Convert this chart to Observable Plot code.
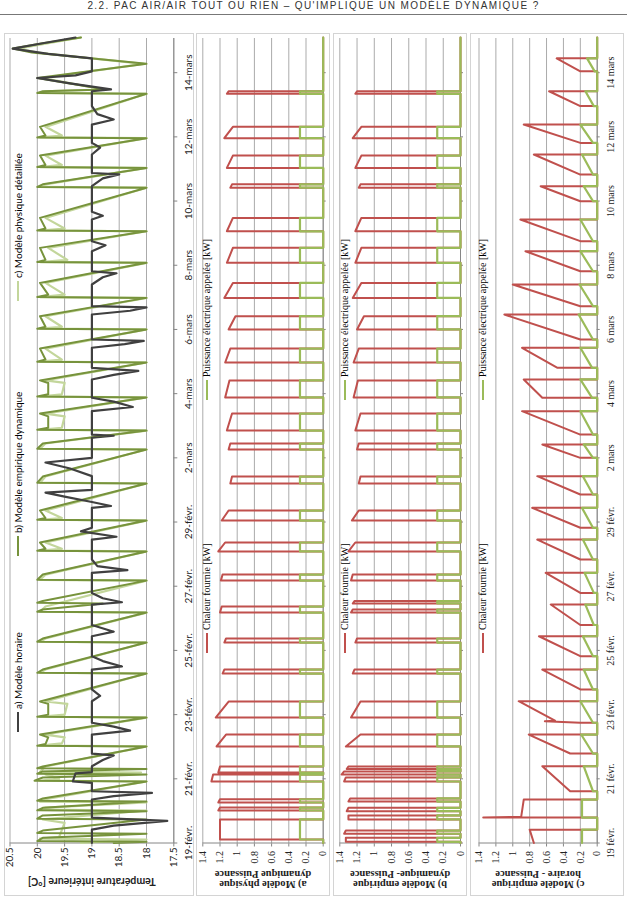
<!DOCTYPE html>
<html><head><meta charset="utf-8">
<script src="https://cdn.jsdelivr.net/npm/d3@7"></script>
<script src="https://cdn.jsdelivr.net/npm/@observablehq/plot@0.6"></script>
<style>
html,body{margin:0;padding:0;background:#fff}
body{width:627px;height:905px;overflow:hidden;position:relative;font-family:Lato,sans-serif}
#header{position:absolute;top:0px;left:0;width:627px;text-align:center;font:10px/11px "Liberation Sans";letter-spacing:1.4px;color:#333;white-space:nowrap}
#hr{position:absolute;top:14px;left:0;width:627px;height:1px;background:#777}
#land{position:absolute;left:0;top:0;width:905px;height:627px;transform-origin:0 0;transform:translate(0px,905px) rotate(-90deg)}
.box{position:absolute;border:1px solid #d4d4d4;box-sizing:border-box;background:#fff}
.plot{position:absolute;left:0}
.leg{position:absolute;display:flex;align-items:center;white-space:nowrap;font-size:10px;line-height:12px;height:12px}
.leg i{display:inline-block;width:20px;height:2px;margin-right:3px}
.serif{font-family:"Liberation Serif",serif}
</style></head><body>
<div id="header">2.2. PAC AIR/AIR TOUT OU RIEN – QU'IMPLIQUE UN MODÈLE DYNAMIQUE ?</div>
<div id="hr"></div>
<div id="land"></div>
<script>
// ---------- axis ticks & labels ----------
const xTicks = [0,48,96,144,192,240,288,336,384,432,480,528,576]; // hours since 19 Feb 2012 00:00
const xLabelsTemp = ["19-févr.","21-févr.","23-févr.","25-févr.","27-févr.","29-févr.","2-mars","4-mars","6-mars","8-mars","10-mars","12-mars","14-mars"];
const xLabelsPow = ["19 févr.","21 févr.","23 févr.","25 févr.","27 févr.","29 févr.","2 mars","4 mars","6 mars","8 mars","10 mars","12 mars","14 mars"];
const tempTicks = [17.5,18,18.5,19,19.5,20,20.5];
const tempLabels = ["17.5","18","18.5","19","19.5","20","20.5"];
const powTicks = [0,0.2,0.4,0.6,0.8,1,1.2,1.4];
const powLabels = ["0","0.2","0.4","0.6","0.8","1","1.2","1.4"];
const xEnd = 602.3;

// ---------- panel 1 : indoor temperature [°C] as (hour, value) ----------
const tempHoraire = [[0,19],[10,19],[13,18.6],[16.5,17.62],[19,19],[32.5,19],[35,18.6],[37.5,17.9],[38.7,19],[45,19],[46,19.35],[52,19.3],[53,19],[57.4,19],[62,18.8],[65.5,18.6],[66.9,19],[81.1,19],[84,18.3],[87,18.6],[89.9,19],[106,19],[110,18.85],[114.8,19],[129.7,19],[132,18.45],[136,18.8],[139.7,19],[154.6,19],[158,18.6],[163,19],[178.3,19],[180,18.45],[183,18.8],[187,19],[202,19],[204,18.35],[207,18.9],[212,19],[226.9,19],[229,18.55],[233,19.2],[235.7,19],[250.6,19],[252,18.65],[255,19],[259,19.5],[262,19.85],[264,19],[274.3,19],[280,19.4],[284.5,19.85],[288,19],[298,19],[303,19],[304.5,18.6],[305.4,19],[322.9,19],[326,18.25],[330,18.6],[332.9,19],[346.6,19],[350,18.6],[353,18.15],[355.3,19],[370.3,19],[373,18.4],[375.5,18.05],[376.5,19],[395.2,19],[398,18.3],[400.5,18.0],[401.4,19],[417.6,19],[423,18.8],[426,18.55],[427.5,19],[442.5,19],[447,18.75],[450,19],[466.2,19],[469,18.8],[472,19],[491.1,19],[497,18.8],[500,18.5],[501,19],[514.8,19],[520,18.85],[523.5,19],[537.2,19],[541,18.6],[545,18.9],[551,19],[562.1,19],[563.5,18.65],[568,19.4],[572,20.0],[574,19.3],[577,19],[586.7,19],[590,19.8],[594,20.45],[598,19.9],[602.3,19.3]];
const tempEmpDyn = [[0,18.6],[0.9,18.0],[1.5,20.0],[3.9,19.9],[6.9,18.0],[7.5,20.0],[9.3,19.9],[17.6,18.0],[18.2,20.0],[20.6,19.9],[23.8,18.0],[24.4,20.0],[26.3,19.9],[31,18.0],[31.6,20.0],[33.3,19.9],[46,18.0],[46.6,20.05],[49,19.9],[51.2,18.0],[51.8,20.0],[53.5,19.9],[55.3,18.0],[55.9,20.0],[57.2,19.9],[72.2,18.0],[72.8,20.0],[74,19.85],[79,19.8],[81.1,19.95],[93.8,18.0],[94.4,20.0],[96,19.8],[104,19.8],[105.8,19.95],[126.7,18.0],[127.3,20.0],[129.7,19.9],[149.9,18.0],[150.5,20.0],[152.9,19.9],[172.3,18.0],[172.9,20.0],[174.6,19.9],[179.1,18.8],[179.7,20.0],[180.9,19.9],[196.2,18.0],[196.8,20.0],[200.7,19.9],[218,18.0],[218.6,20.0],[220,19.85],[224.7,19.95],[241.1,18.0],[241.7,20.0],[243,19.85],[248.6,19.95],[268.8,18.0],[269.4,20.0],[274,19.9],[294.2,18.0],[294.8,20.0],[298.7,19.9],[308.4,18.0],[309,20.0],[310.5,19.8],[319,19.8],[321.1,19.95],[333.2,18.0],[333.8,20.0],[335.5,19.8],[344,19.8],[345.9,19.95],[359.3,18.0],[359.9,20.0],[361.5,19.85],[369.7,19.95],[384,18.0],[384.6,20.0],[386,19.85],[393.9,19.95],[407.6,18.0],[408.2,20.0],[410,19.8],[418.8,19.95],[433.8,18.0],[434.4,20.0],[436,19.85],[445,19.95],[457.4,18.0],[458,20.0],[459.5,19.85],[467.4,19.95],[490,18.0],[490.6,20.0],[492.5,19.9],[504.8,18.0],[505.4,20.0],[507,19.85],[514,19.95],[527,18.0],[527.6,20.0],[529,19.85],[535.5,19.95],[560.2,18.0],[560.8,20.0],[562.1,19.9],[563.5,18.75],[572,20.0],[582.6,18.0],[591,20.1],[594,20.45],[598,19.9],[602.3,19.2]];
const tempPhys = [[0,19.2],[2.6,18.0],[3.2,19.95],[4.5,19.6],[15,19.5],[17.6,19.9],[24.3,18.0],[24.9,19.95],[26.5,19.85],[30.3,18.0],[30.9,19.95],[32.7,19.85],[46,18.0],[46.6,19.95],[48,19.6],[51.2,19.85],[52.7,18.1],[53.3,19.95],[57.2,19.85],[72.2,18.0],[72.8,19.95],[74.5,19.55],[79,19.5],[81.1,19.85],[93.8,18.0],[94.4,19.95],[96,19.5],[104,19.45],[105.8,19.85],[126.7,18.0],[127.3,19.95],[129.7,19.85],[149.9,18.0],[150.5,19.95],[152.9,19.85],[172.3,18.0],[172.9,19.95],[176.8,19.85],[196.2,18.0],[196.8,19.95],[200.7,19.85],[218,18.0],[218.6,19.95],[220,19.55],[224.7,19.85],[241.1,18.0],[241.7,19.95],[243,19.55],[248.6,19.85],[268.8,18.0],[269.4,19.95],[274,19.85],[294.2,18.0],[294.8,19.95],[298.7,19.85],[308.4,18.0],[309,19.95],[310.5,19.55],[319,19.5],[321.1,19.85],[333.2,18.0],[333.8,19.95],[335.5,19.55],[344,19.5],[345.9,19.85],[359.3,18.0],[359.9,19.95],[361.5,19.55],[369.7,19.85],[384,18.0],[384.6,19.95],[386,19.55],[393.9,19.85],[407.6,18.0],[408.2,19.95],[410,19.5],[418.8,19.85],[433.8,18.0],[434.4,19.95],[436,19.45],[445,19.8],[457.4,18.0],[458,19.95],[459.5,19.5],[467.4,19.85],[490,18.0],[490.6,19.95],[492.5,19.85],[504.8,18.0],[505.4,19.95],[507,19.55],[514,19.85],[527,18.0],[527.6,19.95],[529,19.55],[535.5,19.85],[560.2,18.0],[560.8,19.95],[562.1,19.85],[563.5,18.8],[572,19.9],[582.6,18.05],[591,20.0],[594,20.35],[598,19.8],[602.3,19.2]];

// ---------- panel 2 : a) physical dynamic model, on/off pulses ----------
const physOn   = [2.6,24.3,30.3,46.0,52.7,72.2,93.8,126.7,149.9,172.3,196.2,218.0,241.1,268.8,294.2,308.4,333.2,359.3,384.0,407.6,433.8,457.4,490.0,504.8,527.0,560.2];
const physOff  = [17.6,26.5,32.7,51.2,57.2,81.1,105.8,129.7,152.9,176.8,200.7,224.7,248.6,274.0,298.7,321.1,345.9,369.7,393.9,418.8,445.0,467.4,492.5,514.0,535.5,562.1];
const physHeatOn  = [1.20,1.22,1.22,1.30,1.22,1.24,1.25,1.17,1.15,1.20,1.19,1.22,1.18,1.08,1.10,1.12,1.14,1.14,1.10,1.15,1.12,1.12,1.08,1.12,1.15,1.12];
const physHeatOff = [1.20,1.20,1.20,1.28,1.20,1.13,1.10,1.15,1.13,1.18,1.17,1.14,1.10,1.06,1.08,1.06,1.09,1.08,1.02,1.05,1.05,1.05,1.06,1.05,1.05,1.10];
const physElec = 0.27;

// ---------- panel 3 : b) empirical dynamic model, on/off pulses ----------
const empOn   = [0.9,6.9,17.6,23.8,31.0,46.0,51.2,55.3,72.2,93.8,126.7,149.9,172.3,179.1,196.2,218.0,241.1,268.8,294.2,308.4,333.2,359.3,384.0,407.6,433.8,457.4,490.0,504.8,527.0,560.2];
const empOff  = [3.9,9.3,20.6,26.3,33.3,49.0,53.5,57.2,81.1,105.8,129.7,152.9,174.6,180.9,200.7,224.7,248.6,274.0,298.7,321.1,345.9,369.7,393.9,418.8,445.0,467.4,492.5,514.0,535.5,562.1];
const empHeatOn  = [1.33,1.35,1.30,1.32,1.30,1.35,1.38,1.32,1.33,1.27,1.25,1.22,1.27,1.25,1.27,1.30,1.26,1.18,1.20,1.22,1.24,1.24,1.20,1.25,1.22,1.22,1.18,1.22,1.25,1.22];
const empHeatOff = [1.33,1.33,1.30,1.30,1.28,1.33,1.35,1.30,1.16,1.16,1.23,1.20,1.25,1.23,1.25,1.22,1.18,1.16,1.18,1.16,1.19,1.18,1.12,1.15,1.15,1.15,1.16,1.15,1.15,1.20];
const empElec = 0.27;

// ---------- panel 4 : c) empirical hourly model (hour, kW) ----------
const hourlyHeat = [[0,0.75],[10,0.80],[10,0],[19,0],[19,1.35],[19.7,0.90],[32.5,0.87],[32.5,0],[38.7,0],[38.7,0.32],[57.4,0.65],[57.4,0],[66.9,0],[66.9,0.32],[81.1,0.81],[81.1,0],[89.9,0],[89.9,0.2],[91,0.62],[91.5,0.5],[106,0.93],[106,0],[114.8,0],[114.8,0.2],[129.7,0.65],[129.7,0],[139.7,0],[139.7,0.2],[154.6,0.69],[154.6,0],[163,0],[163,0.2],[178.3,0.55],[178.3,0],[187,0],[187,0.2],[202,0.61],[202,0],[212,0],[212,0.2],[226.9,0.71],[226.9,0],[235.7,0],[235.7,0.2],[250.6,0.77],[250.6,0],[260.6,0],[260.6,0.2],[274.3,0.71],[274.3,0],[288,0],[288,0.2],[298,0.65],[298,0],[305.4,0],[305.4,0.2],[322.9,0.89],[322.9,0],[332.9,0],[332.9,0.65],[346.6,0.87],[346.6,0],[355.3,0],[355.3,0.47],[370.3,0.89],[370.3,0],[376.5,0],[376.5,0.2],[395.2,1.1],[395.2,0],[401.4,0],[401.4,0.2],[417.6,1.0],[417.6,0],[427.5,0],[427.5,0.2],[442.5,0.85],[442.5,0],[450,0],[450,0.2],[466.2,0.91],[466.2,0],[479.9,0],[479.9,0.2],[491.1,0.67],[491.1,0],[499.8,0],[499.8,0.2],[514.8,0.75],[514.8,0],[523.5,0],[523.5,0.2],[537.2,0.87],[537.2,0],[551,0],[551,0.2],[562.1,0.57],[562.1,0],[577,0],[577,0.2],[586.7,0.48],[586.7,0],[602.3,0]];
const hourlyElec = [[0,0.18],[10,0.18],[10,0],[19,0],[19,0.18],[32.5,0.18],[32.5,0],[38.7,0],[38.7,0.05],[57.4,0.16],[57.4,0],[66.9,0],[66.9,0.05],[81.1,0.19],[81.1,0],[89.9,0],[89.9,0.05],[106,0.2],[106,0],[114.8,0],[114.8,0.05],[129.7,0.16],[129.7,0],[139.7,0],[139.7,0.05],[154.6,0.17],[154.6,0],[163,0],[163,0.04],[178.3,0.14],[178.3,0],[187,0],[187,0.04],[202,0.15],[202,0],[212,0],[212,0.05],[226.9,0.17],[226.9,0],[235.7,0],[235.7,0.05],[250.6,0.18],[250.6,0],[260.6,0],[260.6,0.05],[274.3,0.17],[274.3,0],[288,0],[288,0.05],[298,0.16],[298,0],[305.4,0],[305.4,0.05],[322.9,0.2],[322.9,0],[332.9,0],[332.9,0.06],[346.6,0.2],[346.6,0],[355.3,0],[355.3,0.06],[370.3,0.2],[370.3,0],[376.5,0],[376.5,0.05],[395.2,0.22],[395.2,0],[401.4,0],[401.4,0.05],[417.6,0.21],[417.6,0],[427.5,0],[427.5,0.05],[442.5,0.2],[442.5,0],[450,0],[450,0.05],[466.2,0.2],[466.2,0],[479.9,0],[479.9,0.05],[491.1,0.16],[491.1,0],[499.8,0],[499.8,0.05],[514.8,0.18],[514.8,0],[523.5,0],[523.5,0.05],[537.2,0.2],[537.2,0],[551,0],[551,0.04],[562.1,0.14],[562.1,0],[577,0],[577,0.03],[586.7,0.12],[586.7,0],[602.3,0]];

// ---------- colours ----------
const cHoraire = "#404040", cEmpDyn = "#77933C", cPhys = "#C3D69B";
const cHeat = "#C0504D", cElec = "#9BBB59";

// ---------- helpers ----------
function stepSeries(on, off, vOn, vOff) {
  const pts = [[0, 0]];
  for (let i = 0; i < on.length; i++) {
    const a = Array.isArray(vOn) ? vOn[i] : vOn;
    const b = Array.isArray(vOff) ? vOff[i] : vOff;
    pts.push([on[i], 0], [on[i], a], [off[i], b], [off[i], 0]);
  }
  pts.push([xEnd, 0]);
  return pts;
}
const land = document.getElementById("land");
function addBox(top, height) {
  const d = document.createElement("div");
  d.className = "box";
  Object.assign(d.style, {left: "9px", top: top + "px", width: "863px", height: height + "px"});
  land.appendChild(d);
}
function addLegend(items, top, serif) {
  for (const it of items) {
    const d = document.createElement("div");
    d.className = "leg" + (serif ? " serif" : "");
    d.style.left = it.u + "px";
    d.style.top = (top - 6) + "px";
    const i = document.createElement("i");
    i.style.background = it.color;
    d.appendChild(i);
    d.appendChild(document.createTextNode(it.label));
    land.appendChild(d);
  }
}
function placePlot(svg, top) {
  svg.classList.add("plot");
  svg.style.top = top + "px";
  land.appendChild(svg);
}

addBox(4, 190); addBox(196, 134); addBox(333, 134); addBox(470, 154);

const X = {domain: [0, xEnd], axis: null};
const axisStroke = "#868686";
const gridStroke = "#ababab";
const xy = {x: d => d[0], y: d => d[1]};

// ---------- panel 1 ----------
placePlot(Plot.plot({
  width: 905, height: 190, marginLeft: 61.5, marginRight: 38, marginTop: 5.5, marginBottom: 20.7,
  style: {fontFamily: "Lato, sans-serif", fontSize: "10px", background: "transparent", color: "#222", overflow: "visible"},
  x: X, y: {domain: [17.5, 20.5], axis: null},
  marks: [
    Plot.gridY(tempTicks, {stroke: gridStroke, strokeOpacity: 1}),
    Plot.ruleX([0], {stroke: axisStroke}),
    Plot.ruleY([17.5], {stroke: axisStroke}),
    Plot.axisY(tempTicks, {tickSize: 3, tickPadding: 1.5, stroke: axisStroke, tickFormat: d => tempLabels[tempTicks.indexOf(d)], label: null}),
    Plot.axisX(xTicks, {tickSize: 4, tickPadding: 7, stroke: axisStroke, tickFormat: d => xLabelsTemp[xTicks.indexOf(d)], label: null}),
    Plot.line(tempPhys, {...xy, stroke: cPhys, strokeWidth: 2.2}),
    Plot.line(tempEmpDyn, {...xy, stroke: cEmpDyn, strokeWidth: 2}),
    Plot.line(tempHoraire, {...xy, stroke: cHoraire, strokeWidth: 2.2}),
    Plot.text(["Température intérieure [°C]"], {text: d => d, frameAnchor: "left", textAnchor: "middle", lineAnchor: "middle", rotate: -90, dx: -38.5, fontWeight: "bold", fontSize: 10.5, fill: "#222"})
  ]
}), 4);
addLegend([
  {u: 173, color: cHoraire, label: "a) Modèle horaire"},
  {u: 349, color: cEmpDyn, label: "b) Modèle empirique dynamique"},
  {u: 604, color: cPhys, label: "c) Modèle physique détaillée"}
], 18, false);

// ---------- power panels ----------
function powerPlot(height, mTop, mBottom, heat, elec, title, showLabels) {
  return Plot.plot({
    width: 905, height, marginLeft: 61.5, marginRight: 38, marginTop: mTop, marginBottom: mBottom,
    style: {fontFamily: "Liberation Serif, serif", fontSize: "10px", background: "transparent", color: "#222", overflow: "visible"},
    x: X, y: {domain: [0, 1.4], axis: null},
    marks: [
      Plot.gridY(powTicks, {stroke: gridStroke, strokeOpacity: 1}),
      Plot.ruleX([0], {stroke: axisStroke}),
      Plot.ruleY([0], {stroke: axisStroke}),
      Plot.axisY(powTicks, {tickSize: 3, tickPadding: 5, stroke: axisStroke, tickFormat: d => powLabels[powTicks.indexOf(d)], label: null}),
      Plot.axisX(xTicks, {tickSize: 3, tickPadding: 7, stroke: axisStroke, tickFormat: d => showLabels ? xLabelsPow[xTicks.indexOf(d)] : "", label: null}),
      Plot.line(heat, {...xy, stroke: cHeat, strokeWidth: 2}),
      Plot.line(elec, {...xy, stroke: cElec, strokeWidth: 2.2}),
      Plot.text([title], {text: d => d, frameAnchor: "left", textAnchor: "middle", lineAnchor: "middle", rotate: -90, dx: -36.5, fontWeight: "bold", fontSize: 10.5, lineHeight: 1, fill: "#222"})
    ]
  });
}
placePlot(powerPlot(134, 6.3, 7.3,
  stepSeries(physOn, physOff, physHeatOn, physHeatOff),
  stepSeries(physOn, physOff, physElec, physElec),
  "a) Modèle physique\ndynamique Puissance", false), 196);
placePlot(powerPlot(134, 6.3, 7.0,
  stepSeries(empOn, empOff, empHeatOn, empHeatOff),
  stepSeries(empOn, empOff, empElec, empElec),
  "b) Modèle empirique\ndynamique- Puissance", false), 333);
placePlot(powerPlot(154, 8.5, 27.3, hourlyHeat, hourlyElec,
  "c) Modèle empirique\nhoraire - Puissance", true), 470);

const powLegend = [
  {u: 252, color: cHeat, label: "Chaleur fournie [kW]"},
  {u: 505, color: cElec, label: "Puissance électrique appelée [kW]"}
];
addLegend(powLegend, 207, true);
addLegend(powLegend, 345, true);
addLegend(powLegend, 483, true);
</script>
</body></html>
